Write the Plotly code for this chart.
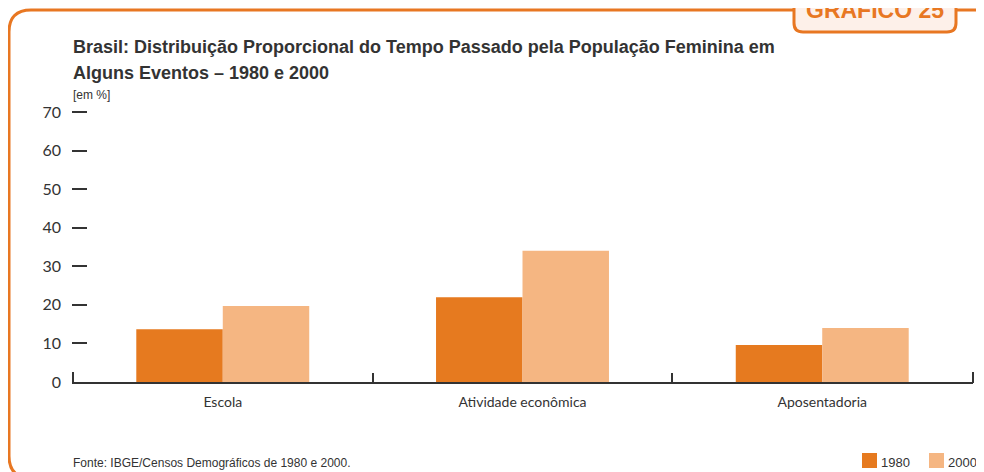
import plotly.graph_objects as go

categories = ["Escola", "Atividade econômica", "Aposentadoria"]
values_1980 = [13.7, 22.0, 9.6]
values_2000 = [19.7, 34.0, 14.0]
y_ticks = [0, 10, 20, 30, 40, 50, 60, 70]
series_names = ["1980", "2000"]

C1980 = "#E67A1F"
C2000 = "#F5B682"
ORANGE = "#E87722"
TXT = "#333333"

OFF = 8  # page body margin offset
W, H = 984 - OFF, 472 - OFF
# reference-pixel plot area: x 72..973, y 112 (70) .. 382 (0)
L = 72 - OFF
R = W - (973 - OFF)
B = H - (382 - OFF)
T = 102
PW, PH = W - L - R, H - T - B
YTOP = PH / (270 / 70)


def px(x):
    return (x - OFF - L) / PW


def py(y):
    return (H - B - (y - OFF)) / PH


fig = go.Figure()
fig.add_trace(go.Bar(x=categories, y=values_1980, name=series_names[0],
                     marker=dict(color=C1980, line=dict(width=0))))
fig.add_trace(go.Bar(x=categories, y=values_2000, name=series_names[1],
                     marker=dict(color=C2000, line=dict(width=0))))

x0, y0, x1, y1, r = 9, 10, 995, 478, 22


def P(x, y):
    return f"{px(x):.5f},{py(y):.5f}"


frame = (f"M {P(x0, y0 + r)} Q {P(x0, y0)} {P(x0 + r, y0)} L {P(x1 - r, y0)} "
         f"Q {P(x1, y0)} {P(x1, y0 + r)} L {P(x1, y1 - r)} Q {P(x1, y1)} {P(x1 - r, y1)} "
         f"L {P(x0 + r, y1)} Q {P(x0, y1)} {P(x0, y1 - r)} Z")
bx0, bx1, by0, by1, br = 794, 956, -20, 32, 9
box = (f"M {P(bx0, by0)} L {P(bx0, by1 - br)} Q {P(bx0, by1)} {P(bx0 + br, by1)} "
       f"L {P(bx1 - br, by1)} Q {P(bx1, by1)} {P(bx1, by1 - br)} L {P(bx1, by0)} Z")

shapes = [
    dict(type="path", path=frame, xref="paper", yref="paper",
         line=dict(color=ORANGE, width=3), fillcolor="rgba(0,0,0,0)", layer="below"),
    dict(type="path", path=box, xref="paper", yref="paper",
         line=dict(color=ORANGE, width=3), fillcolor="#FDF0E9", layer="above"),
    dict(type="rect", xref="paper", yref="paper", x0=px(862), x1=px(877), y0=py(453), y1=py(468),
         fillcolor=C1980, line=dict(width=0)),
    dict(type="rect", xref="paper", yref="paper", x0=px(929), x1=px(944), y0=py(453), y1=py(468),
         fillcolor=C2000, line=dict(width=0)),
    # edge ticks of the category axis
    dict(type="line", xref="paper", yref="paper", x0=px(73), x1=px(73), y0=py(383), y1=py(372),
         line=dict(color=TXT, width=2)),
    dict(type="line", xref="paper", yref="paper", x0=px(973), x1=px(973), y0=py(383), y1=py(372),
         line=dict(color=TXT, width=2)),
]

SANS = "Liberation Sans, Arial, sans-serif"
annotations = [
    dict(text="<b>GRÁFICO 25</b>", x=px(875), y=py(25), xref="paper", yref="paper",
         xanchor="center", yanchor="bottom", showarrow=False,
         font=dict(family=SANS, size=23, color=ORANGE)),
    dict(text="<b>Brasil: Distribuição Proporcional do Tempo Passado pela População Feminina em</b>",
         x=px(71), y=py(47), xref="paper", yref="paper", xanchor="left", yanchor="middle",
         showarrow=False, font=dict(family=SANS, size=18, color=TXT)),
    dict(text="<b>Alguns Eventos – 1980 e 2000</b>",
         x=px(71), y=py(73), xref="paper", yref="paper", xanchor="left", yanchor="middle",
         showarrow=False, font=dict(family=SANS, size=18, color=TXT)),
    dict(text="[em %]", x=px(71), y=py(95), xref="paper", yref="paper", xanchor="left",
         yanchor="middle", showarrow=False, font=dict(family=SANS, size=12, color=TXT)),
    dict(text="Fonte: IBGE/Censos Demográficos de 1980 e 2000.", x=px(71), y=py(463),
         xref="paper", yref="paper", xanchor="left", yanchor="middle", showarrow=False,
         font=dict(family=SANS, size=12, color=TXT)),
    dict(text=series_names[0], x=px(879), y=py(462), xref="paper", yref="paper",
         xanchor="left", yanchor="middle", showarrow=False,
         font=dict(family=SANS, size=13, color=TXT)),
    dict(text=series_names[1], x=px(946), y=py(462), xref="paper", yref="paper",
         xanchor="left", yanchor="middle", showarrow=False,
         font=dict(family=SANS, size=13, color=TXT)),
]

fig.update_layout(
    width=W, height=H,
    margin=dict(l=L, r=R, t=T, b=B, pad=0),
    paper_bgcolor="white", plot_bgcolor="white",
    barmode="group", bargap=0.423, bargroupgap=0,
    showlegend=False,
    shapes=shapes, annotations=annotations,
    font=dict(family="Lato, Open Sans, sans-serif", color=TXT),
    xaxis=dict(type="category", range=[-0.503, 2.503], showgrid=False, zeroline=False,
               showline=True, linecolor=TXT, linewidth=2,
               ticks="inside", tickson="boundaries", ticklen=9, tickwidth=2, tickcolor=TXT,
               ticklabelstandoff=6,
               tickfont=dict(size=14, color=TXT), fixedrange=True),
    yaxis=dict(range=[0, YTOP], tickvals=y_ticks, showgrid=False, zeroline=False,
               showline=False, ticks="inside", ticklen=15, tickwidth=2, tickcolor=TXT,
               ticklabelstandoff=10, tickfont=dict(size=16, color=TXT), fixedrange=True),
)

fig.write_html("out.html")
